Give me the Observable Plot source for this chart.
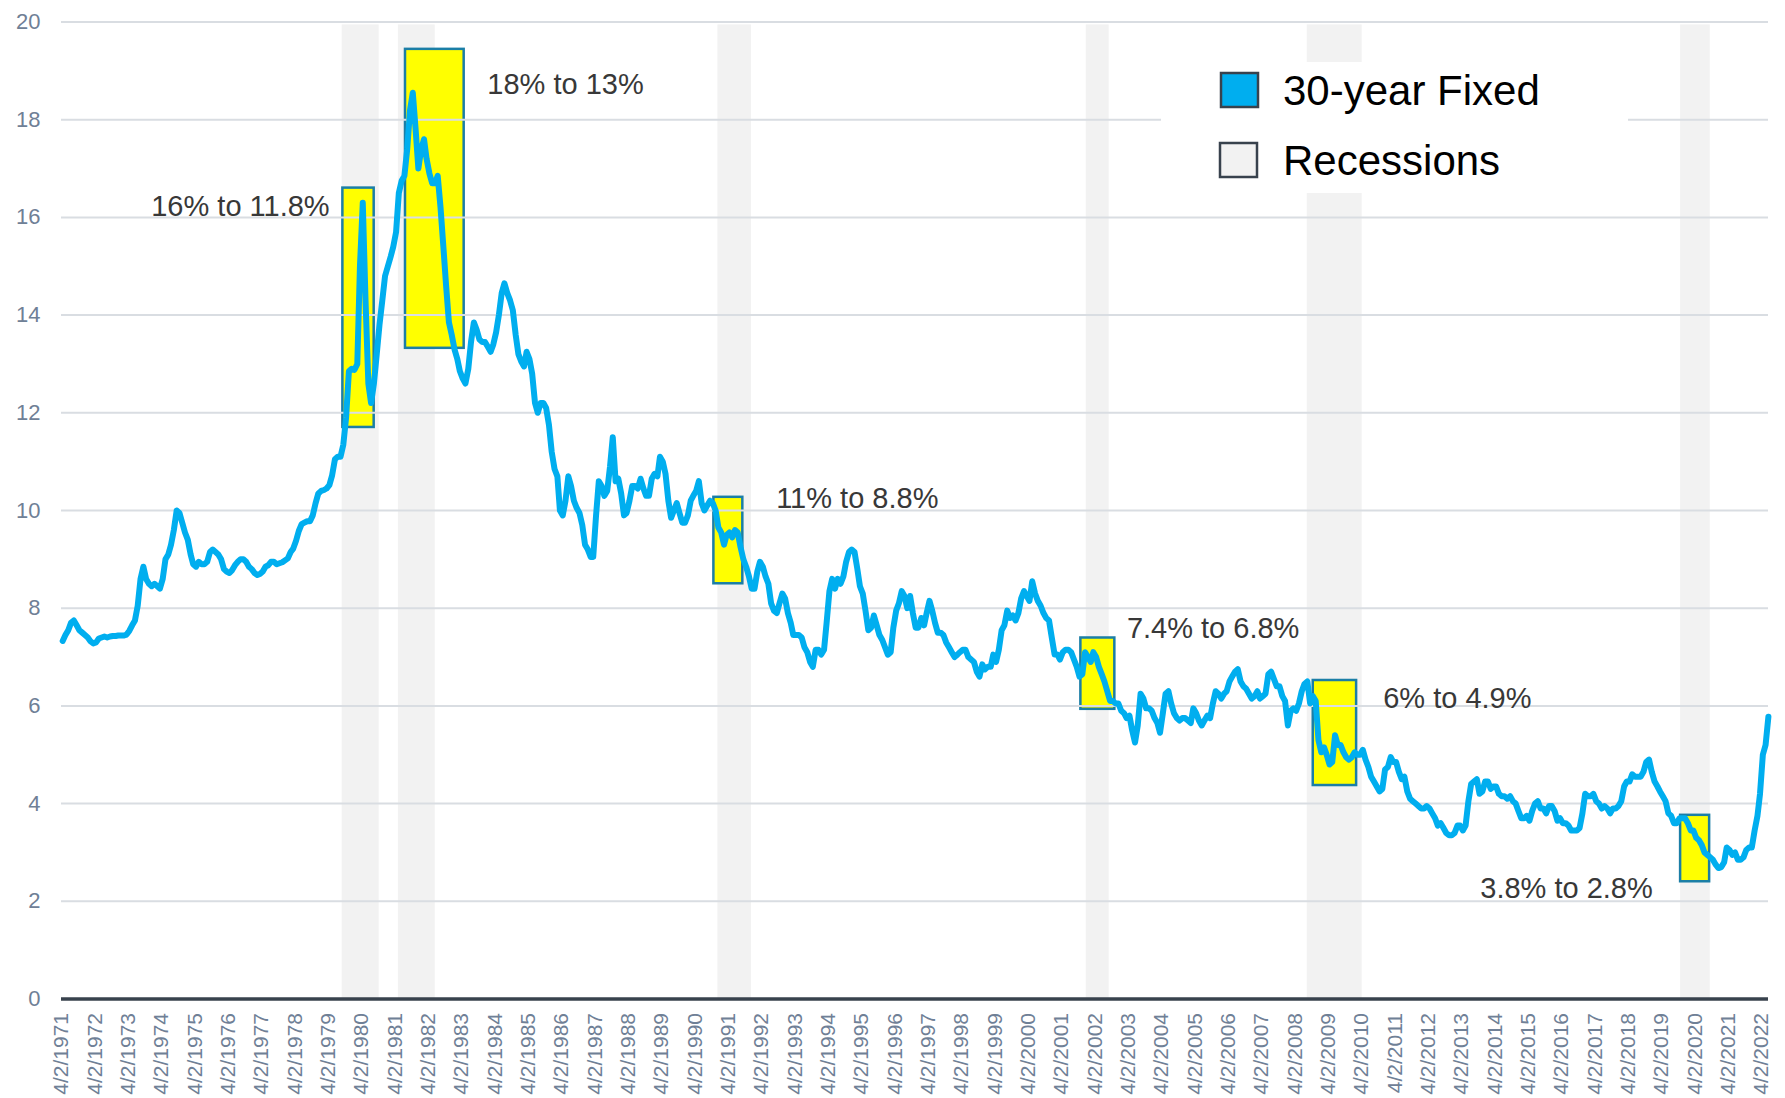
<!DOCTYPE html>
<html>
<head>
<meta charset="utf-8">
<script src="https://cdn.jsdelivr.net/npm/d3@7"></script>
<script src="https://cdn.jsdelivr.net/npm/@observablehq/plot@0.6"></script>
<style>
html,body{margin:0;padding:0;background:#fff;}
svg{display:block;}
</style>
</head>
<body>
<div id="chart"></div>
<script>
// 30-year fixed mortgage rate, monthly readings
// Each row = one year; 1970s block starts April 1971
const rates1970s = [
  7.33, 7.45, 7.55, 7.70, 7.75, 7.65, 7.55, 7.50, 7.45,
  7.40, 7.32, 7.28, 7.30, 7.38, 7.40, 7.42, 7.40, 7.42, 7.43, 7.43, 7.44,
  7.44, 7.44, 7.46, 7.54, 7.65, 7.75, 8.05, 8.60, 8.85, 8.60, 8.50, 8.45,
  8.50, 8.45, 8.40, 8.60, 9.00, 9.10, 9.30, 9.60, 10.00, 9.95, 9.75, 9.55,
  9.40, 9.10, 8.90, 8.85, 8.95, 8.90, 8.90, 8.95, 9.15, 9.20, 9.15, 9.10,
  9.00, 8.80, 8.75, 8.72, 8.78, 8.88, 8.95, 9.00, 9.00, 8.95, 8.85, 8.80,
  8.72, 8.68, 8.70, 8.75, 8.85, 8.88, 8.95, 8.95, 8.90, 8.92, 8.94, 8.98,
  9.02, 9.15, 9.22, 9.38, 9.58, 9.72, 9.75, 9.78, 9.78, 9.90, 10.15, 10.35,
  10.40, 10.42, 10.45, 10.52, 10.72, 11.05, 11.10, 11.10, 11.35, 11.90, 12.85, 12.90
];
const rates1980s = [
  12.88, 13.00, 15.00, 16.30, 14.30, 12.60, 12.20, 12.60, 13.20, 13.80, 14.30, 14.80,
  15.00, 15.20, 15.40, 15.70, 16.50, 16.75, 16.85, 17.40, 18.20, 18.55, 17.80, 17.00,
  17.40, 17.60, 17.20, 16.90, 16.70, 16.70, 16.85, 16.20, 15.40, 14.60, 13.85, 13.60,
  13.30, 13.10, 12.85, 12.70, 12.60, 12.90, 13.45, 13.85, 13.70, 13.50, 13.45, 13.45,
  13.35, 13.25, 13.40, 13.65, 14.00, 14.45, 14.65, 14.45, 14.30, 14.10, 13.60, 13.20,
  13.05, 12.95, 13.25, 13.10, 12.80, 12.20, 12.00, 12.20, 12.20, 12.10, 11.75, 11.20,
  10.85, 10.70, 10.00, 9.90, 10.20, 10.70, 10.50, 10.20, 10.05, 9.95, 9.70, 9.30,
  9.20, 9.05, 9.05, 9.90, 10.60, 10.50, 10.30, 10.40, 10.90, 11.50, 10.60, 10.65,
  10.35, 9.90, 9.95, 10.20, 10.50, 10.50, 10.45, 10.65, 10.45, 10.30, 10.30, 10.65,
  10.75, 10.70, 11.10, 11.00, 10.75, 10.20, 9.85, 10.00, 10.15, 9.95, 9.75, 9.75
];
const rates1990s = [
  9.90, 10.20, 10.30, 10.40, 10.60, 10.15, 10.00, 10.10, 10.20, 10.15, 10.00, 9.65,
  9.55, 9.30, 9.50, 9.55, 9.45, 9.60, 9.55, 9.25, 9.00, 8.85, 8.65, 8.40,
  8.40, 8.75, 8.95, 8.85, 8.65, 8.50, 8.10, 7.95, 7.90, 8.10, 8.30, 8.20,
  7.90, 7.70, 7.45, 7.45, 7.45, 7.40, 7.20, 7.10, 6.90, 6.80, 7.15, 7.15,
  7.05, 7.15, 7.70, 8.35, 8.60, 8.40, 8.60, 8.50, 8.65, 8.95, 9.15, 9.20,
  9.15, 8.80, 8.45, 8.30, 7.95, 7.55, 7.60, 7.85, 7.65, 7.45, 7.35, 7.20,
  7.05, 7.10, 7.60, 7.95, 8.10, 8.35, 8.25, 8.00, 8.25, 7.90, 7.60, 7.60,
  7.80, 7.65, 7.90, 8.15, 7.95, 7.70, 7.50, 7.50, 7.45, 7.30, 7.20, 7.10,
  7.00, 7.05, 7.10, 7.15, 7.15, 7.00, 6.95, 6.90, 6.70, 6.60, 6.85, 6.75,
  6.80, 6.80, 7.05, 6.90, 7.15, 7.55, 7.65, 7.95, 7.80, 7.85, 7.75, 7.90
];
const rates2000s = [
  8.20, 8.35, 8.25, 8.15, 8.55, 8.30, 8.15, 8.05, 7.90, 7.80, 7.75, 7.40,
  7.05, 7.05, 6.95, 7.10, 7.15, 7.15, 7.10, 6.95, 6.80, 6.60, 6.65, 7.10,
  7.00, 6.90, 7.10, 7.00, 6.80, 6.65, 6.50, 6.30, 6.10, 6.10, 6.05, 6.05,
  5.90, 5.85, 5.75, 5.80, 5.50, 5.25, 5.60, 6.25, 6.15, 5.95, 5.95, 5.90,
  5.75, 5.65, 5.45, 5.85, 6.25, 6.30, 6.05, 5.85, 5.75, 5.70, 5.75, 5.75,
  5.70, 5.65, 5.95, 5.85, 5.70, 5.60, 5.70, 5.80, 5.75, 6.05, 6.30, 6.25,
  6.15, 6.25, 6.30, 6.50, 6.60, 6.70, 6.75, 6.50, 6.40, 6.35, 6.25, 6.15,
  6.20, 6.30, 6.15, 6.20, 6.25, 6.65, 6.70, 6.55, 6.40, 6.40, 6.20, 6.10,
  5.60, 5.90, 5.95, 5.90, 6.05, 6.30, 6.45, 6.50, 6.05, 6.20, 6.10, 5.30,
  5.05, 5.15, 5.00, 4.80, 4.85, 5.40, 5.20, 5.20, 5.05, 4.95, 4.90, 4.95
];
const rates2010s = [
  5.05, 5.00, 5.00, 5.10, 4.90, 4.75, 4.55, 4.45, 4.35, 4.25, 4.30, 4.70,
  4.75, 4.95, 4.85, 4.85, 4.65, 4.50, 4.55, 4.25, 4.10, 4.05, 4.00, 3.95,
  3.90, 3.90, 3.95, 3.90, 3.80, 3.70, 3.55, 3.60, 3.50, 3.40, 3.35, 3.35,
  3.40, 3.55, 3.55, 3.45, 3.55, 4.05, 4.40, 4.45, 4.50, 4.20, 4.25, 4.45,
  4.45, 4.30, 4.35, 4.35, 4.20, 4.15, 4.15, 4.10, 4.15, 4.05, 4.00, 3.85,
  3.70, 3.70, 3.75, 3.65, 3.85, 4.00, 4.05, 3.90, 3.90, 3.80, 3.95, 3.95,
  3.85, 3.65, 3.70, 3.60, 3.60, 3.55, 3.45, 3.45, 3.45, 3.50, 3.80, 4.20,
  4.15, 4.15, 4.20, 4.05, 4.00, 3.90, 3.95, 3.90, 3.80, 3.90, 3.90, 3.95,
  4.05, 4.35, 4.45, 4.45, 4.60, 4.55, 4.55, 4.55, 4.65, 4.85, 4.90, 4.65,
  4.45, 4.35, 4.25, 4.15, 4.05, 3.80, 3.75, 3.60, 3.60, 3.70, 3.70, 3.70
];
const rates2020s = [
  3.60, 3.45, 3.45, 3.30, 3.25, 3.15, 3.00, 2.95, 2.90, 2.85, 2.75, 2.68,
  2.70, 2.80, 3.10, 3.05, 2.95, 3.00, 2.85, 2.85, 2.90, 3.05, 3.10, 3.10,
  3.45, 3.75, 4.20, 5.00, 5.20, 5.78
];
const blockStarts = ["1971-04-15","1980-01-15","1990-01-15","2000-01-15","2010-01-15","2020-01-15"];

// Recession shading (as drawn)
const recStart = ["1979-09-02","1981-05-10","1990-12-10","2001-12-28","2008-08-14","2019-10-27"];
const recEnd   = ["1980-10-12","1982-06-18","1991-12-13","2002-09-05","2010-04-08","2020-09-16"];

// Highlighted yellow boxes
const boxStart = ["1979-09-10","1981-07-27","1990-10-27","2001-10-30","2008-10-19","2019-10-27"];
const boxEnd   = ["1980-08-18","1983-05-01","1991-09-09","2002-11-06","2010-02-06","2020-09-09"];
const boxHigh  = [16.6, 19.44, 10.27, 7.39, 6.52, 3.76];
const boxLow   = [11.7, 13.32, 8.5, 5.93, 4.37, 2.40];

// Annotations
const annoText   = ["16% to 11.8%","18% to 13%","11% to 8.8%","7.4% to 6.8%","6% to 4.9%","3.8% to 2.8%"];
const annoDate   = ["1979-04-18","1984-01-10","1992-09-08","2003-03-18","2010-11-24","2013-10-23"];
const annoValue  = [16.22, 18.72, 10.25, 7.58, 6.15, 2.26];
const annoAnchor = ["end","start","start","start","start","start"];

// Axis ticks
const yTicks = [0,2,4,6,8,10,12,14,16,18,20];
const xTickLabels = [
 "4/2/1971","4/2/1972","4/2/1973","4/2/1974","4/2/1975","4/2/1976","4/2/1977","4/2/1978","4/2/1979","4/2/1980",
 "4/2/1981","4/2/1982","4/2/1983","4/2/1984","4/2/1985","4/2/1986","4/2/1987","4/2/1988","4/2/1989","4/2/1990",
 "4/2/1991","4/2/1992","4/2/1993","4/2/1994","4/2/1995","4/2/1996","4/2/1997","4/2/1998","4/2/1999","4/2/2000",
 "4/2/2001","4/2/2002","4/2/2003","4/2/2004","4/2/2005","4/2/2006","4/2/2007","4/2/2008","4/2/2009","4/2/2010",
 "4/2/2011","4/2/2012","4/2/2013","4/2/2014","4/2/2015","4/2/2016","4/2/2017","4/2/2018","4/2/2019","4/2/2020",
 "4/2/2021","4/2/2022"
];
const xDomain = ["1971-04-02","2022-06-16"];

// Legend
const legendItems = ["30-year Fixed","Recessions"];
const legendFills = ["#00aeef","#f2f2f2"];

// ---- build tables ----
const blocks = [rates1970s, rates1980s, rates1990s, rates2000s, rates2010s, rates2020s];
const series = [];
blocks.forEach((vals, b) => {
  const start = new Date(blockStarts[b] + "T00:00:00Z");
  vals.forEach((v, i) => series.push({date: d3.utcMonth.offset(start, i), rate: v}));
});
const parse = s => new Date(s + "T00:00:00Z");
const recessions = recStart.map((s, i) => ({start: parse(s), end: parse(recEnd[i])}));
const boxes = boxStart.map((s, i) => ({start: parse(s), end: parse(boxEnd[i]), lo: boxLow[i], hi: boxHigh[i]}));
const annos = annoText.map((t, i) => ({text: t, date: parse(annoDate[i]), value: annoValue[i], anchor: annoAnchor[i]}));
const xTicks = xTickLabels.map(s => { const [m, d, y] = s.split("/").map(Number); return new Date(Date.UTC(y, m - 1, d)); });
const fmt = d => `${d.getUTCMonth() + 1}/${d.getUTCDate()}/${d.getUTCFullYear()}`;

const W = 1785, H = 1098;
const chart = Plot.plot({
  width: W, height: H,
  marginLeft: 61, marginRight: 17, marginTop: 21.5, marginBottom: 99.5,
  style: {fontFamily: "'Liberation Sans', Arial, sans-serif", background: "#fff", overflow: "visible"},
  x: {type: "utc", domain: xDomain.map(parse)},
  y: {domain: [0, 20]},
  marks: [
    Plot.rect(recessions, {x1: "start", x2: "end", y1: 0, y2: 19.94, fill: "#f2f2f2"}),
    Plot.rect(boxes, {x1: "start", x2: "end", y1: "lo", y2: "hi", fill: "#ffff00", stroke: "#1b7ea6", strokeWidth: 2.5}),
    Plot.gridY(yTicks.filter(t => t > 0), {stroke: "#d9dde2", strokeWidth: 2, strokeOpacity: 1}),
    Plot.ruleY([0], {stroke: "#38424d", strokeWidth: 3.5}),
    Plot.line(series, {x: "date", y: "rate", stroke: "#00aeef", strokeWidth: 6, strokeLinejoin: "round", strokeLinecap: "round"}),
    Plot.text(annos.filter(a => a.anchor === "end"), {x: "date", y: "value", text: "text", textAnchor: "end", fontSize: 29, fill: "#383838"}),
    Plot.text(annos.filter(a => a.anchor === "start"), {x: "date", y: "value", text: "text", textAnchor: "start", fontSize: 29, fill: "#383838"}),
    Plot.axisY(yTicks, {tickSize: 0, tickPadding: 21, fontSize: 22, fill: "#6f8096", label: null}),
    Plot.axisX(xTicks, {tickFormat: fmt, tickRotate: -90, tickSize: 0, tickPadding: 14, fontSize: 21, fill: "#6f8096", label: null})
  ]
});
document.getElementById("chart").appendChild(chart);

// legend drawn on top of the plot (white panel hides grid/shading behind it)
const svg = d3.select(chart);
const lg = svg.append("g").attr("font-family", "'Liberation Sans', Arial, sans-serif").attr("text-anchor", "start");
lg.append("rect").attr("x", 1161).attr("y", 62).attr("width", 467).attr("height", 131).attr("fill", "#fff");
legendItems.forEach((name, i) => {
  const y0 = 73 + i * 70;
  lg.append("rect").attr("x", 1221 - (i ? 1 : 0)).attr("y", y0).attr("width", 37).attr("height", 34)
    .attr("fill", legendFills[i]).attr("stroke", "#38424d").attr("stroke-width", 2.5);
  lg.append("text").attr("x", 1283).attr("y", y0 + 32).attr("font-size", 42).attr("fill", "#000")
    .attr("text-anchor", "start").text(name);
});
</script>
</body>
</html>
